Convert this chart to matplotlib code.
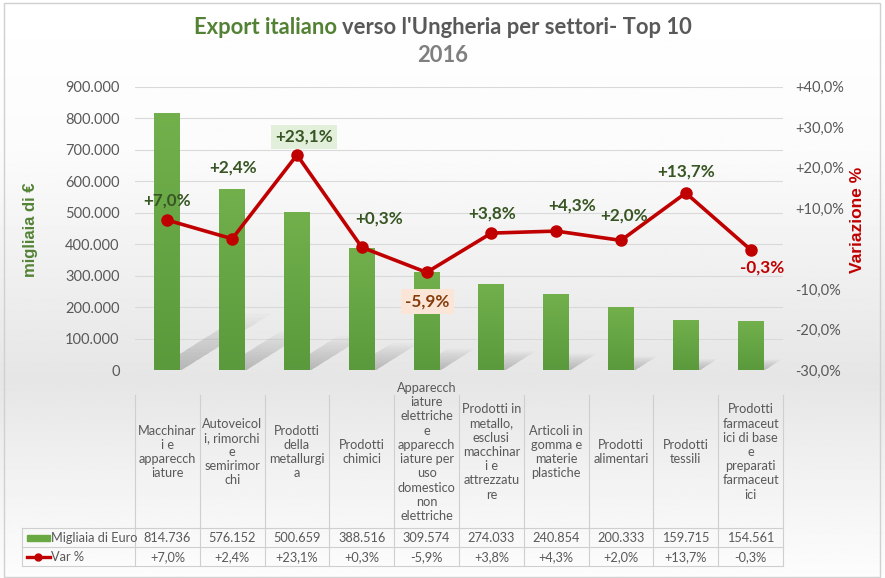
import numpy as np
import matplotlib
matplotlib.use("Agg")
import matplotlib.pyplot as plt
import matplotlib.transforms as mtransforms
from matplotlib.colors import LinearSegmentedColormap
from matplotlib.patches import Rectangle, Polygon
from matplotlib.lines import Line2D

plt.rcParams["font.family"] = ["Lato", "DejaVu Sans"]

# data
categories = [
    "Macchinar\ni e\napparecch\niature",
    "Autoveicol\ni, rimorchi\ne\nsemirimor\nchi",
    "Prodotti\ndella\nmetallurgi\na",
    "Prodotti\nchimici",
    "Apparecch\niature\nelettriche\ne\napparecch\niature per\nuso\ndomestico\nnon\nelettriche",
    "Prodotti in\nmetallo,\nesclusi\nmacchinar\ni e\nattrezzatu\nre",
    "Articoli in\ngomma e\nmaterie\nplastiche",
    "Prodotti\nalimentari",
    "Prodotti\ntessili",
    "Prodotti\nfarmaceut\nici di base\ne\npreparati\nfarmaceut\nici",
]
export_k = [814736, 576152, 500659, 388516, 309574, 274033, 240854, 200333, 159715, 154561]
var_pct = [7.0, 2.4, 23.1, 0.3, -5.9, 3.8, 4.3, 2.0, 13.7, -0.3]

# label offsets in pixels (dx, dy) relative to the line point
label_off = [(0, -20), (1, -71), (7, -18), (17, -29), (1, 29),
             (1, -20), (16, -26), (3, -25), (0, -21), (12, 18)]

W, H = 885, 578
GREEN = "#548235"
RED = "#C00000"
GRAY = "#595959"
GRID = "#D9D9D9"

fig = plt.figure(figsize=(W / 100, H / 100), dpi=100)
fig.patch.set_facecolor("white")

# background gradient
bg = fig.add_axes([0, 0, 1, 1], zorder=-10)
bg.axis("off")
ys = np.linspace(0, H, 400)
g = np.interp(ys, [0, 150, 380, 480, 578], [1.0, 0.985, 0.9, 0.95, 0.99])
bg.imshow(np.repeat(g[:, None], 2, axis=1), cmap="gray", vmin=0, vmax=1,
          aspect="auto", extent=[0, 1, 0, 1])
bg.set_xlim(0, 1)
bg.set_ylim(0, 1)

fig.add_artist(Rectangle((4 / W, 1 - 577 / H), 876 / W, 574 / H,
                         transform=fig.transFigure, fill=False,
                         ec="#D0D0D0", lw=1))

# main axes
ax = fig.add_axes([135 / W, 1 - 370 / H, 648 / W, (370 - 86.5) / H])
ax.patch.set_alpha(0)
x = np.arange(len(categories))
ax.set_xlim(-0.5, len(categories) - 0.5)
ax.set_ylim(0, 900000)
ax.set_yticks(range(0, 900001, 100000))
ax.set_yticklabels([f"{v:,}".replace(",", ".") for v in range(0, 900001, 100000)],
                   color=GRAY, fontsize=10.5)
ax.set_xticks([])
ax.tick_params(axis="y", length=0, pad=11)
ax.yaxis.grid(True, color=GRID, lw=0.8)
ax.set_axisbelow(True)
for s in ax.spines.values():
    s.set_visible(False)

# soft shadows behind the bars
for i, v in enumerate(export_k):
    dx = v * 1.7e-6
    dy = v * 0.22
    for f in np.linspace(1.0, 0.1, 14):
        poly = Polygon([(i - 0.2, 0), (i + 0.22, 0),
                        (i + 0.22 + dx * f, dy * f), (i - 0.2 + dx * f, dy * f)],
                       closed=True, fc="#404040", ec="none", alpha=0.02, zorder=1.5)
        ax.add_patch(poly)

# gradient bars
bar_cmap = LinearSegmentedColormap.from_list("g", ["#5A9A3C", "#72B04C"])
bars = ax.bar(x, export_k, 0.4, color="#6AA844", zorder=2)
grad = np.linspace(0, 1, 100)[:, None]
for b in bars:
    x0, w, h = b.get_x(), b.get_width(), b.get_height()
    im = ax.imshow(grad, extent=[x0, x0 + w, 0, h], origin="lower", aspect="auto",
                   cmap=bar_cmap, zorder=2.1)
    im.set_clip_path(b)
ax.set_xlim(-0.5, len(categories) - 0.5)
ax.set_ylim(0, 900000)

# line on secondary axis
ax2 = ax.twinx()
ax2.set_ylim(-30, 40)
ax2.set_yticks(range(-30, 41, 10))
ax2.set_yticklabels(["" if v == 0 else f"{v:+.1f}%".replace(".", ",")
                     for v in range(-30, 41, 10)], color=GRAY, fontsize=10.5)
ax2.tick_params(axis="y", length=0, pad=9)
for s in ax2.spines.values():
    s.set_visible(False)
ax2.plot(x, var_pct, color=RED, lw=2.6, marker="o", ms=8, zorder=5)

for i, v in enumerate(var_pct):
    txt = f"{v:+.1f}%".replace(".", ",")
    color = "#375623"
    bbox = None
    if i == 2:
        bbox = dict(boxstyle="square,pad=0.25", fc="#E2EFDA", ec="none")
    if v < 0:
        color = RED
    if i == 4:
        color = "#843C0C"
        bbox = dict(boxstyle="square,pad=0.25", fc="#FBE5D6", ec="none")
    dxp, dyp = label_off[i]
    ax2.annotate(txt, (i, v), xytext=(dxp * 0.72, -dyp * 0.72),
                 textcoords="offset points", ha="center", va="center",
                 fontsize=12.3, fontweight="bold", color=color, bbox=bbox, zorder=6)

# axis titles
fig.text(30 / W, 1 - 230 / H, "migliaia di €", rotation=90, color=GREEN,
         fontsize=12, fontweight="bold", family="Liberation Sans",
         ha="center", va="center")
fig.text(857 / W, 1 - 220 / H, "Variazione %", rotation=90, color=RED,
         fontsize=12.5, fontweight="bold", family="Liberation Sans",
         ha="center", va="center")

# data table
trans = mtransforms.blended_transform_factory(ax.transData, fig.transFigure)
LINE = "#CFCFCF"
for i in range(len(categories) + 1):
    fig.add_artist(Line2D([i - 0.5, i - 0.5], [1 - 395 / H, 1 - 566 / H],
                          transform=trans, color=LINE, lw=0.8))
for yy in [528, 547, 566]:
    fig.add_artist(Line2D([22 / W, 783 / W], [1 - yy / H] * 2,
                          transform=fig.transFigure, color=LINE, lw=0.8))
fig.add_artist(Line2D([22 / W, 22 / W], [1 - 528 / H, 1 - 566 / H],
                      transform=fig.transFigure, color=LINE, lw=0.8))

TFS = 9.2
for i, c in enumerate(categories):
    fig.text(i, 1 - 452 / H, c, transform=trans, ha="center", va="center",
             multialignment="center", fontsize=TFS, color=GRAY, linespacing=1.22)
    fig.text(i, 1 - 538 / H, f"{export_k[i]:,}".replace(",", "."), transform=trans,
             ha="center", va="center", fontsize=TFS, color=GRAY)
    fig.text(i, 1 - 557 / H, f"{var_pct[i]:+.1f}%".replace(".", ","), transform=trans,
             ha="center", va="center", fontsize=TFS, color=GRAY)

fig.add_artist(Rectangle((27 / W, 1 - 541 / H), 23 / W, 6 / H,
                         transform=fig.transFigure, color="#6AA844"))
fig.text(51 / W, 1 - 538 / H, "Migliaia di Euro", ha="left", va="center",
         fontsize=TFS, color=GRAY)
fig.add_artist(Line2D([27 / W, 50 / W], [1 - 557 / H] * 2, transform=fig.transFigure,
                      color=RED, lw=2.4))
fig.add_artist(Line2D([38 / W], [1 - 557 / H], transform=fig.transFigure,
                      color=RED, marker="o", ms=5))
fig.text(51 / W, 1 - 557 / H, "Var %", ha="left", va="center", fontsize=TFS, color=GRAY)

# title in two colours
r = fig.canvas.get_renderer()
ty = 1 - 27 / H
t1 = fig.text(0, ty, "Export italiano", fontsize=15.8, fontweight="bold",
              color=GREEN, ha="left", va="center")
t2 = fig.text(0, ty, "verso l'Ungheria per settori- Top 10", fontsize=15.8,
              fontweight="bold", color=GRAY, ha="left", va="center")
w1 = t1.get_window_extent(r).width
w2 = t2.get_window_extent(r).width
gap = 5
start = (W - (w1 + gap + w2)) / 2
t1.set_x(start / W)
t2.set_x((start + w1 + gap) / W)
fig.text(0.5, 1 - 55 / H, "2016", fontsize=15.8, fontweight="bold", color="#7F7F7F",
         ha="center", va="center")

fig.savefig("out.png", dpi=100)
